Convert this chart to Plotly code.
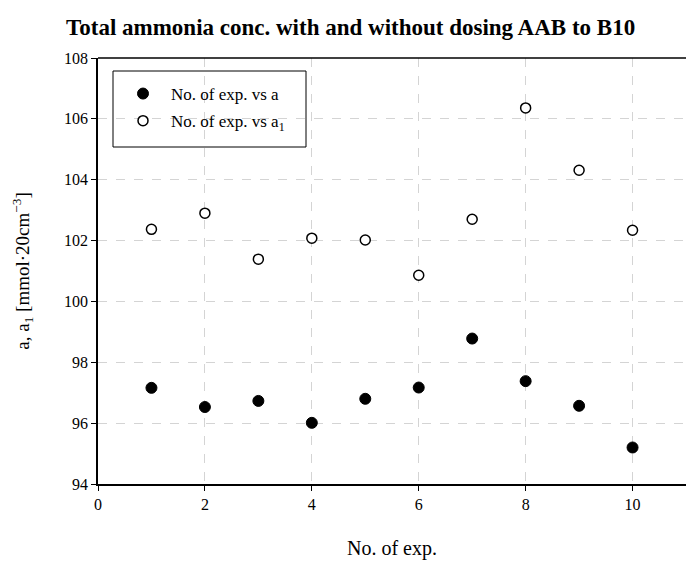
import plotly.graph_objects as go

# Experiment numbers and total ammonia concentrations
exp_no = [1, 2, 3, 4, 5, 6, 7, 8, 9, 10]
a_vals = [97.16, 96.53, 96.73, 96.01, 96.80, 97.17, 98.78, 97.38, 96.57, 95.20]
a1_vals = [102.37, 102.90, 101.39, 102.08, 102.02, 100.86, 102.70, 106.36, 104.31, 102.34]

x_ticks = [0, 2, 4, 6, 8, 10]
y_ticks = [94, 96, 98, 100, 102, 104, 106, 108]

FONT = "Liberation Serif"

fig = go.Figure()
fig.add_trace(go.Scatter(
    x=exp_no, y=a_vals, mode="markers", name="No. of exp. vs a",
    legendgroup="a",
    marker=dict(symbol="circle", size=11, color="black",
                line=dict(color="black", width=1)),
))
fig.add_trace(go.Scatter(
    x=exp_no, y=a1_vals, mode="markers", name="No. of exp. vs a<sub>1</sub>",
    legendgroup="a1",
    marker=dict(symbol="circle", size=10, color="white",
                line=dict(color="black", width=1.5)),
))

grid = dict(showgrid=True, gridcolor="#d4d4d4", gridwidth=1, griddash="dash")

fig.update_layout(
    width=686, height=565,
    margin=dict(l=98, r=0, t=58, b=81),
    paper_bgcolor="white", plot_bgcolor="white",
    font=dict(family=FONT, size=16, color="black"),
    title=dict(
        text="<b>Total ammonia conc. with and without dosing AAB to B10</b>",
        font=dict(family=FONT, size=23, color="black"),
        xref="container", x=66 / 686, xanchor="left",
        yref="container", y=1 - 35 / 565, yanchor="bottom",
    ),
    xaxis=dict(
        range=[0, 11], tickvals=x_ticks, ticks="outside", ticklen=5,
        tickcolor="black", showline=True, linecolor="black", linewidth=1.5,
        zeroline=False, title=dict(text="No. of exp.", font=dict(size=20), standoff=29),
        tickfont=dict(size=16), **grid,
    ),
    yaxis=dict(
        range=[94, 108], tickvals=y_ticks, ticks="outside", ticklen=5,
        tickcolor="black", showline=True, linecolor="black", linewidth=1.5,
        zeroline=False,
        title=dict(text="a, a<sub>1</sub> [mmol·20cm<sup>−3</sup>]",
                   font=dict(size=19), standoff=29),
        tickfont=dict(size=16), **grid,
    ),
    legend=dict(
        x=(115 - 98) / 588, y=(484 - 76) / 426, xanchor="left", yanchor="top",
        bgcolor="rgba(0,0,0,0)", borderwidth=0, traceorder="grouped",
        font=dict(family=FONT, size=17), itemwidth=46, tracegroupgap=2,
    ),
    showlegend=True,
)

# Top frame line at the upper y limit
fig.add_shape(type="line", xref="paper", yref="paper", x0=0, x1=1, y0=1, y1=1,
              line=dict(color="black", width=1.5))
# Legend frame
fig.add_shape(type="rect", xref="paper", yref="paper",
              x0=(113 - 98) / 588, x1=(306 - 98) / 588,
              y0=(484 - 147) / 426, y1=(484 - 71) / 426,
              line=dict(color="black", width=1), fillcolor="white", layer="below")

fig.write_html("out.html")
